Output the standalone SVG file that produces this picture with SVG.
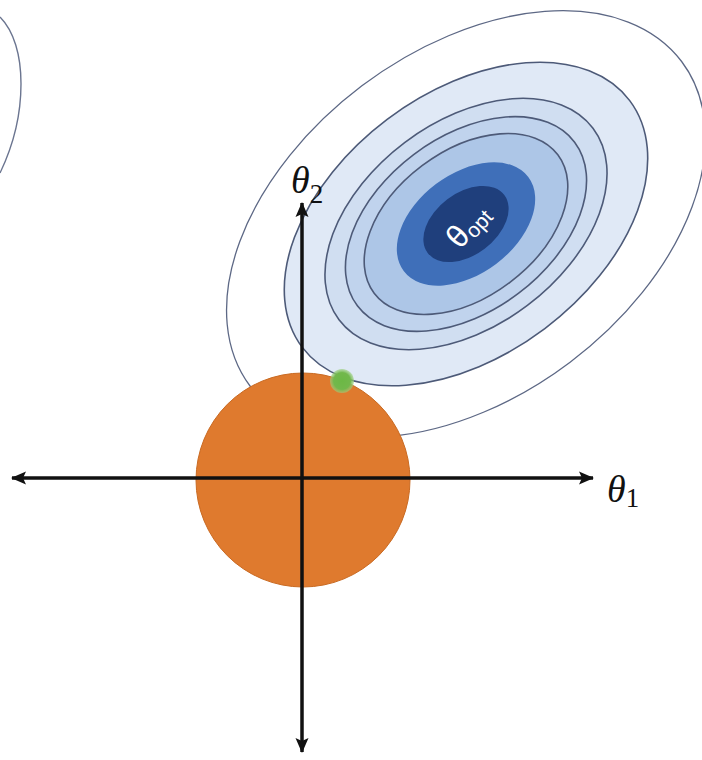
<svg xmlns="http://www.w3.org/2000/svg" width="702" height="760" viewBox="0 0 702 760">
<defs>
<style>
.ring{stroke:#4d5a78;stroke-width:1.6}
.axis{stroke:#111;stroke-width:3.5;fill:none}
.lbl{font-family:"Liberation Serif",serif;fill:#111}
</style>
<marker id="ah" markerUnits="userSpaceOnUse" markerWidth="16" markerHeight="16" viewBox="0 0 16 16" refX="14" refY="8" orient="auto-start-reverse">
<path d="M0 1.5 L15 8 L0 14.5 L3 8 Z" fill="#111"/>
</marker>
<radialGradient id="gdot" cx="0.5" cy="0.5" r="0.5">
<stop offset="0" stop-color="#6cb845"/>
<stop offset="0.7" stop-color="#72b84c"/>
<stop offset="1" stop-color="#9ccf7e" stop-opacity="0.6"/>
</radialGradient>
</defs>
<rect width="702" height="760" fill="#fff"/>
<g id="left-contour">
<path d="M0 17 C28 45 28 115 0 173" fill="none" stroke="#6b7590" stroke-width="1.4"/>
</g>
<g id="contours" transform="translate(466 224) rotate(-37)">
<ellipse rx="270" ry="173" fill="#fff" stroke="#5d6885" stroke-width="1.3"/>
<ellipse rx="205" ry="131" fill="#e0e9f6" class="ring"/>
<ellipse rx="159" ry="102" fill="#d0def1" class="ring"/>
<ellipse rx="136" ry="87" fill="#c0d3ed" class="ring"/>
<ellipse rx="115" ry="73" fill="#adc6e7" class="ring"/>
<ellipse rx="78" ry="50" fill="#3f6fb9"/>
<ellipse rx="48" ry="31" fill="#1f3f7c"/>
</g>
<g id="theta-opt" transform="translate(468 226) rotate(-48)">
<text x="0" y="10" text-anchor="middle" font-family="Liberation Sans,sans-serif" fill="#fff"><tspan font-size="32">θ</tspan><tspan font-size="21" dy="4">opt</tspan></text>
</g>
<g id="constraint-circle">
<circle cx="303" cy="480" r="107" fill="#df7a2e" stroke="#c96a22" stroke-width="1"/>
</g>
<g id="connectors">
<line id="axis-x" class="axis" x1="12" y1="478" x2="593" y2="478" marker-start="url(#ah)" marker-end="url(#ah)"/>
<line id="axis-y" class="axis" x1="302" y1="203" x2="302" y2="752" marker-start="url(#ah)" marker-end="url(#ah)"/>
</g>
<g id="solution-point">
<circle cx="342" cy="381" r="12" fill="url(#gdot)"/>
</g>
<g id="label-theta2">
<text class="lbl" x="291" y="193" font-size="38"><tspan font-style="italic">θ</tspan><tspan font-size="27" dy="10">2</tspan></text>
</g>
<g id="label-theta1">
<text class="lbl" x="607" y="502" font-size="38"><tspan font-style="italic">θ</tspan><tspan font-size="27" dy="5">1</tspan></text>
</g>
</svg>
